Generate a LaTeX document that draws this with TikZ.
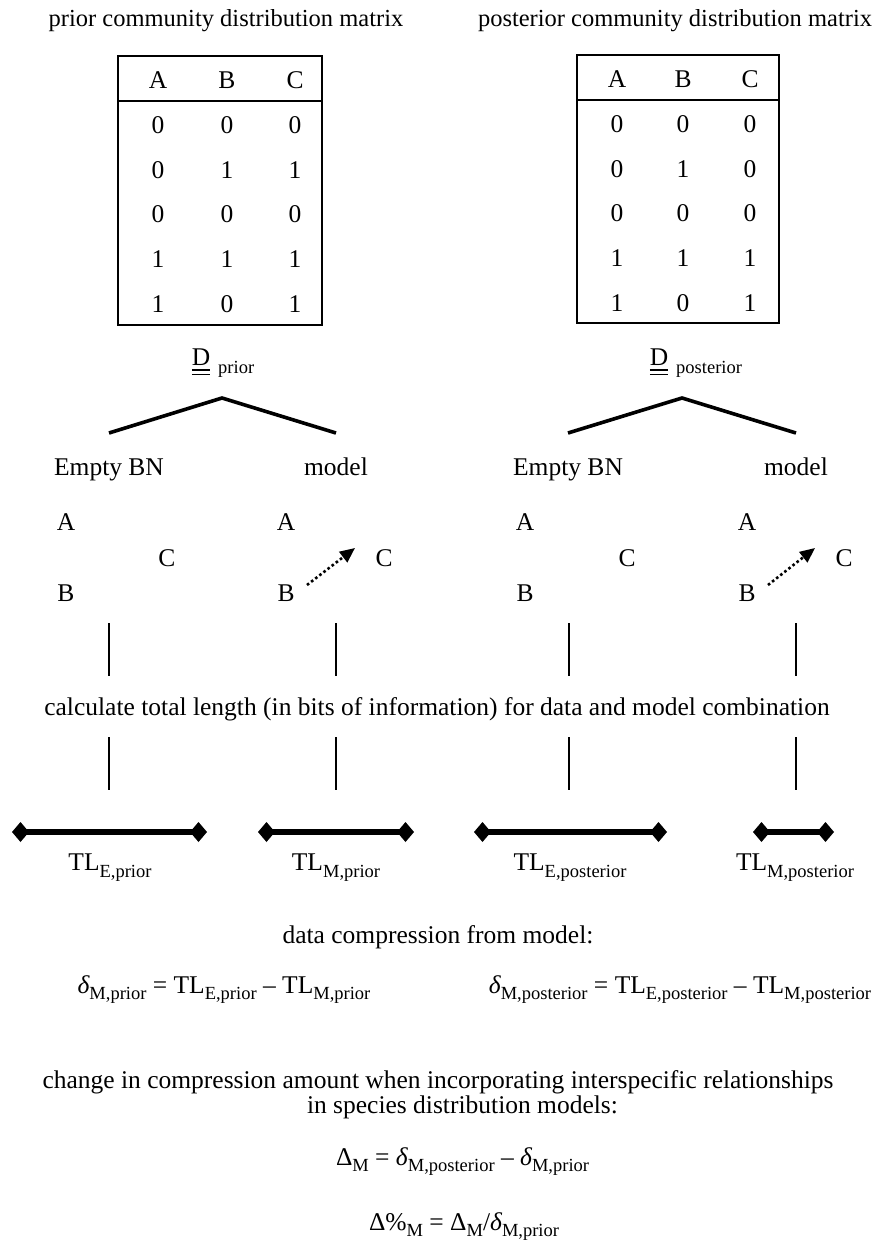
\documentclass[tikz,border=0pt]{standalone}
\usepackage{fontspec}
\setmainfont{Liberation Serif}
\usetikzlibrary{arrows.meta}
\newcommand{\mainfs}{\fontsize{25.5}{30}\selectfont}
\newcommand{\titlefs}{\fontsize{24.5}{29}\selectfont}
\newcommand{\subfs}{\fontsize{18.5}{20}\selectfont}
\newcommand{\sbs}[1]{\raisebox{-6.5pt}{\subfs #1}}
\tikzset{
  every node/.style={inner sep=0pt, outer sep=0pt, font=\mainfs},
  lbl/.style={anchor=base},
  lblw/.style={anchor=base west},
  ttl/.style={anchor=base, font=\titlefs},
  tline/.style={line width=2.5pt},
  branch/.style={line width=3.6pt},
  vline/.style={line width=2.8pt},
  uline/.style={line width=1.6pt},
  bar/.style={line width=5.5pt, {Diamond[length=17pt,width=20pt]}-{Diamond[length=17pt,width=20pt]}},
  dotarrow/.style={line width=2.6pt, dash pattern=on 2.6pt off 2.6pt, -{Triangle[length=15pt,width=13pt]}}
}
\begin{document}
\begin{tikzpicture}[x=1pt,y=-1pt]
\useasboundingbox (0,0) rectangle (877,1249);

% titles
\node[ttl] (tprior) at (226,27) {prior community distribution matrix};
\node[ttl] (tpost) at (675,27) {posterior community distribution matrix};

% left table
\draw[tline] (118,56) rectangle (322,325);
\draw[tline] (118,101) -- (322,101);
\node[lbl] (LhA) at (158,88.5) {A};
\node[lbl] (LhB) at (227,88.5) {B};
\node[lbl] (LhC) at (295,88.5) {C};
\foreach [count=\i] \a/\b/\c in {0/0/0,0/1/1,0/0/0,1/1/1,1/0/1}{
  \node[lbl] (L-\i-a) at (158,88.5+44.8*\i) {\a};
  \node[lbl] (L-\i-b) at (227,88.5+44.8*\i) {\b};
  \node[lbl] (L-\i-c) at (295,88.5+44.8*\i) {\c};
}

% right table
\draw[tline] (577,55) rectangle (779,323);
\draw[tline] (577,100) -- (779,100);
\node[lbl] (RhA) at (617,88) {A};
\node[lbl] (RhB) at (683,88) {B};
\node[lbl] (RhC) at (750,88) {C};
\foreach [count=\i] \a/\b/\c in {0/0/0,0/1/0,0/0/0,1/1/1,1/0/1}{
  \node[lbl] (R-\i-a) at (617,88+44.6*\i) {\a};
  \node[lbl] (R-\i-b) at (683,88+44.6*\i) {\b};
  \node[lbl] (R-\i-c) at (750,88+44.6*\i) {\c};
}

% D prior / D posterior
\node[lbl] (Dl) at (201,365) {D};
\draw[uline] ([yshift=-5pt]Dl.base west) -- ([yshift=-5pt]Dl.base east);
\draw[uline] ([yshift=-9.5pt]Dl.base west) -- ([yshift=-9.5pt]Dl.base east);
\node[lblw, font=\subfs] (Dlsub) at ([xshift=8pt,yshift=-8pt]Dl.base east) {prior};

\node[lbl] (Dr) at (659,365) {D};
\draw[uline] ([yshift=-5pt]Dr.base west) -- ([yshift=-5pt]Dr.base east);
\draw[uline] ([yshift=-9.5pt]Dr.base west) -- ([yshift=-9.5pt]Dr.base east);
\node[lblw, font=\subfs] (Drsub) at ([xshift=8pt,yshift=-8pt]Dr.base east) {posterior};

% branches
\coordinate (apL) at (222,398);
\coordinate (apLl) at (109,433);
\coordinate (apLr) at (336,433);
\draw[branch] (apLl) -- (apL) -- (apLr);
\coordinate (apR) at (682,398);
\coordinate (apRl) at (568,433);
\coordinate (apRr) at (796,433);
\draw[branch] (apRl) -- (apR) -- (apRr);

% model labels
\node[lbl] (e1) at (109,475.5) {Empty BN};
\node[lbl] (m1) at (336,475.5) {model};
\node[lbl] (e2) at (568,475.5) {Empty BN};
\node[lbl] (m2) at (796,475.5) {model};

% BN graphs
\node[lbl] (g1A) at (66,530.5) {A};
\node[lbl] (g1C) at (167,566.5) {C};
\node[lbl] (g1B) at (66,601.5) {B};

\node[lbl] (g2A) at (286,530.5) {A};
\node[lbl] (g2C) at (384,566.5) {C};
\node[lbl] (g2B) at (286,601.5) {B};
\coordinate (a2s) at (307,585);
\coordinate (a2e) at (355,548);
\draw[dotarrow] (a2s) -- (a2e);

\node[lbl] (g3A) at (525,530.5) {A};
\node[lbl] (g3C) at (627,566.5) {C};
\node[lbl] (g3B) at (525,601.5) {B};

\node[lbl] (g4A) at (747,530.5) {A};
\node[lbl] (g4C) at (844,566.5) {C};
\node[lbl] (g4B) at (747,601.5) {B};
\coordinate (a4s) at (768,585);
\coordinate (a4e) at (815,548);
\draw[dotarrow] (a4s) -- (a4e);

% vertical connectors
\foreach \x [count=\k] in {109,336,569,796}{
  \coordinate (u\k t) at (\x,623);
  \coordinate (u\k b) at (\x,676);
  \coordinate (d\k t) at (\x,737);
  \coordinate (d\k b) at (\x,790);
  \draw[vline] (u\k t) -- (u\k b);
  \draw[vline] (d\k t) -- (d\k b);
}

\node[lbl] (calc) at (437,715) {calculate total length (in bits of information) for data and model combination};

% bars
\coordinate (b1l) at (12,832);  \coordinate (b1r) at (207,832);
\coordinate (b2l) at (258,832); \coordinate (b2r) at (414,832);
\coordinate (b3l) at (474,832); \coordinate (b3r) at (667,832);
\coordinate (b4l) at (753,832); \coordinate (b4r) at (834,832);
\draw[bar] (b1l) -- (b1r);
\draw[bar] (b2l) -- (b2r);
\draw[bar] (b3l) -- (b3r);
\draw[bar] (b4l) -- (b4r);

\node[lbl] (tl1) at (110,870.5) {TL\sbs{E,prior}};
\node[lbl] (tl2) at (336,870.5) {TL\sbs{M,prior}};
\node[lbl] (tl3) at (570,870.5) {TL\sbs{E,posterior}};
\node[lbl] (tl4) at (795,870.5) {TL\sbs{M,posterior}};

\node[lbl] (dcm) at (438,943) {data compression from model:};

\node[lbl] (dl) at (224,993) {{\itshape δ}\sbs{M,prior} = TL\sbs{E,prior} – TL\sbs{M,prior}};
\node[lbl] (dr) at (680,993) {{\itshape δ}\sbs{M,posterior} = TL\sbs{E,posterior} – TL\sbs{M,posterior}};

\node[lbl] (ch1) at (438,1088) {change in compression amount when incorporating interspecific relationships};
\node[lblw] (ch2) at (307,1113) {in species distribution models:};

\node[lblw] (DM) at (336,1165) {Δ\sbs{M} = {\itshape δ}\sbs{M,posterior} – {\itshape δ}\sbs{M,prior}};
\node[lblw] (DP) at (369,1230) {Δ\%\sbs{M} = Δ\sbs{M}/{\itshape δ}\sbs{M,prior}};
\end{tikzpicture}
\end{document}
